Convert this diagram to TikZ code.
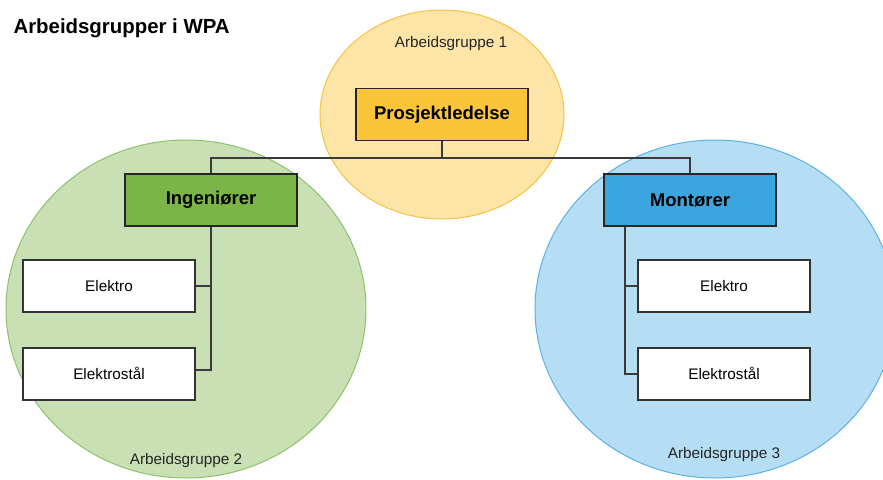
\documentclass[tikz,border=0pt]{standalone}
\usepackage{fontspec}
\setmainfont{Liberation Sans}
\usepackage{xcolor}
\usepackage{tikz}
\usetikzlibrary{positioning,shapes.geometric}
\definecolor{paleyellow}{HTML}{FDE5A7}
\definecolor{edgeyellow}{HTML}{F7C142}
\definecolor{boxyellow}{HTML}{FBC53B}
\definecolor{palegreen}{HTML}{C8E0B3}
\definecolor{edgegreen}{HTML}{8CC26B}
\definecolor{boxgreen}{HTML}{7BB547}
\definecolor{paleblue}{HTML}{B5DDF3}
\definecolor{edgeblue}{HTML}{5DB1E5}
\definecolor{boxblue}{HTML}{3BA6DE}
\definecolor{linegray}{HTML}{3A3A3A}

\begin{document}
\begin{tikzpicture}[x=1pt, y=-1pt,
    group/.style={ellipse, draw, line width=1pt, inner sep=0pt},
    grouplabel/.style={font=\fontsize{15.3}{18}\selectfont, text=black!85},
    leadbox/.style={draw=black!85, line width=1.7pt, minimum width=172pt, minimum height=52pt, font=\fontsize{18.5}{22}\selectfont\bfseries},
    subbox/.style={draw=black!80, line width=1.7pt, fill=white, minimum width=172pt, minimum height=52pt, font=\fontsize{15.3}{18}\selectfont},
    link/.style={draw=linegray, line width=1.7pt}]
    \clip (0,0) rectangle (883,479);

    % work groups
    \node[group, fill=paleyellow, draw=edgeyellow, minimum width=244pt, minimum height=209pt] (grp1) at (442,114.5) {};
    \node[group, fill=palegreen, draw=edgegreen, minimum width=360pt, minimum height=338pt] (grp2) at (186,309) {};
    \node[group, fill=paleblue, draw=edgeblue, minimum width=360pt, minimum height=338pt] (grp3) at (715,309) {};
    \node[grouplabel] (lbl1) at (451,44) {Arbeidsgruppe 1};
    \node[grouplabel] (lbl2) at (186,461) {Arbeidsgruppe 2};
    \node[grouplabel] (lbl3) at (724,455) {Arbeidsgruppe 3};

    \node[anchor=west, font=\fontsize{20.4}{24}\selectfont\bfseries] (title) at (10,28.5) {Arbeidsgrupper i WPA};

    % boxes
    \node[leadbox, fill=boxyellow] (lead) at (442,114.5) {Prosjektledelse};
    \node[leadbox, fill=boxgreen] (ing) at (211,200) {Ingeniører};
    \node[leadbox, fill=boxblue] (mon) at (690,200) {Montører};
    \node[subbox] (ingEl) at (109,286) {Elektro};
    \node[subbox, below=34pt of ingEl] (ingSt) {Elektrostål};
    \node[subbox] (monEl) at (724,286) {Elektro};
    \node[subbox, below=34pt of monEl] (monSt) {Elektrostål};

    % connectors
    \coordinate (bus) at (442,158);
    \draw[link] (lead.south) -- (bus);
    \draw[link] (ing.north) |- (bus) -| (mon.north);
    \draw[link] (ing.south) |- (ingEl.east);
    \draw[link] (ing.south) |- ([yshift=4pt]ingSt.east);
    \coordinate (monDrop) at ([xshift=22pt]mon.south west);
    \draw[link] (monDrop) |- (monEl.west);
    \draw[link] (monDrop) |- (monSt.west);
\end{tikzpicture}
\end{document}
